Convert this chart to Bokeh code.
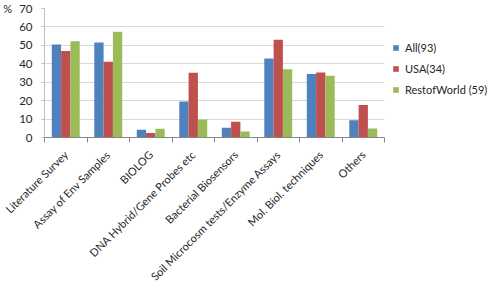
import math
from bokeh.plotting import figure
from bokeh.models import (ColumnDataSource, Range1d, FixedTicker, Legend, LegendItem)
from bokeh.embed import file_html
from bokeh.resources import INLINE

categories = ["Literature Survey", "Assay of Env Samples", "BIOLOG", "DNA Hybrid/Gene Probes etc",
              "Bacterial Biosensors", "Soil Microcosm tests/Enzyme Assays", "Mol. Biol. techniques", "Others"]
series_names = ["All(93)", "USA(34)", "RestofWorld (59)"]
all_vals = [50.4, 51.5, 4.2, 19.6, 5.3, 42.9, 34.4, 9.4]
usa_vals = [46.9, 41.1, 2.5, 35.2, 8.5, 53.1, 35.3, 17.6]
row_vals = [52.2, 57.4, 4.7, 9.8, 3.3, 37.1, 33.5, 4.9]
y_ticks = [0, 10, 20, 30, 40, 50, 60, 70]

colors = ["#4F81BD", "#C0504D", "#9BBB59"]
FONT = "Lato"
TXT = "#262626"

n = len(categories)
PLOT_W = 340          # pixel width of the category area
FRAME_W = 453         # frame extends under the legend
p = figure(frame_width=FRAME_W, frame_height=129, output_backend="svg", toolbar_location=None,
           x_range=Range1d(0, n * FRAME_W / PLOT_W), y_range=Range1d(0, 70),
           min_border_left=39, min_border_right=0, min_border_top=8, min_border_bottom=136)
p.outline_line_color = None
p.background_fill_color = "white"

centers = [i + 0.5 for i in range(n)]
bw = 0.219
renderers = []
for k, (vals, c) in enumerate(zip([all_vals, usa_vals, row_vals], colors)):
    src = ColumnDataSource(dict(x=[cx + (k - 1) * bw for cx in centers], top=vals))
    r = p.vbar(x="x", top="top", width=bw, bottom=0, source=src, fill_color=c, line_color=None)
    renderers.append(r)

xa = p.xaxis[0]
xa.bounds = (0, n)
xa.ticker = FixedTicker(ticks=centers, minor_ticks=list(range(n + 1)))
xa.major_label_overrides = {c: name for c, name in zip(centers, categories)}
xa.major_label_orientation = math.pi / 4
xa.major_tick_out = 0
xa.major_tick_in = 0
xa.minor_tick_out = 5
xa.minor_tick_in = 0
xa.minor_tick_line_color = "#868686"
xa.axis_line_color = "#868686"
xa.major_label_text_font = FONT
xa.major_label_text_font_size = "11px"
xa.major_label_text_color = TXT
xa.major_label_standoff = 10

ya = p.yaxis[0]
ya.ticker = FixedTicker(ticks=y_ticks)
ya.axis_line_color = "#BFBFBF"
ya.major_tick_out = 3
ya.major_tick_in = 0
ya.major_tick_line_color = "#BFBFBF"
ya.minor_tick_line_color = None
ya.major_label_text_font = FONT
ya.major_label_text_font_size = "11.5px"
ya.major_label_text_color = TXT
ya.major_label_standoff = 9
ya.axis_label = "%"
ya.axis_label_orientation = "horizontal"
ya.axis_label_align = "end"
ya.axis_label_standoff = 4
ya.axis_label_text_font = FONT
ya.axis_label_text_font_style = "normal"
ya.axis_label_text_font_size = "11px"
ya.axis_label_text_color = TXT

p.xgrid.visible = False
p.ygrid.ticker = FixedTicker(ticks=y_ticks)
p.ygrid.cross_bounds = (0, n)
p.ygrid.grid_line_color = "#D9D9D9"

legend = Legend(items=[LegendItem(label=s, renderers=[r]) for s, r in zip(series_names, renderers)],
                location=(348, 41), padding=0, margin=0, spacing=7,
                glyph_width=7, glyph_height=7, label_height=14, label_standoff=6,
                label_text_font=FONT, label_text_font_size="11px", label_text_color=TXT,
                border_line_color=None, background_fill_alpha=0)
p.add_layout(legend, "center")

open("out.html", "w").write(file_html(p, INLINE))
